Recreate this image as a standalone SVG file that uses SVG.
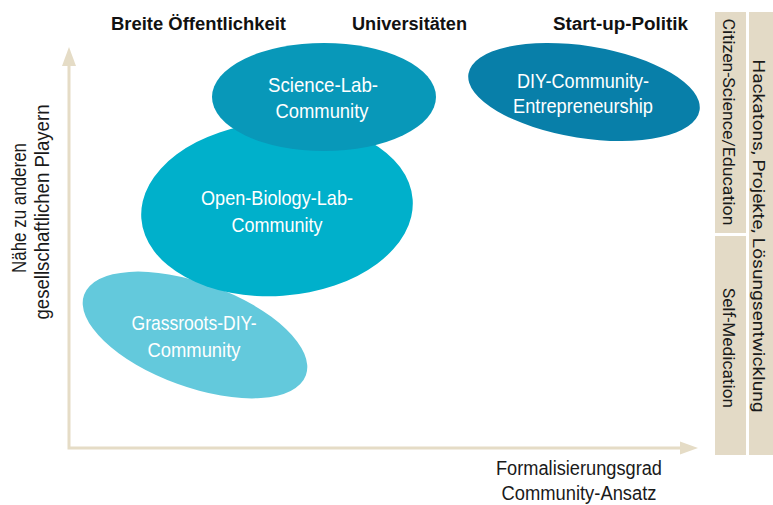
<svg xmlns="http://www.w3.org/2000/svg" width="773" height="505" viewBox="0 0 773 505">
<style>
.lbl{font-family:"Liberation Sans",Arial,sans-serif;font-size:21px;fill:#ffffff;text-anchor:middle}
.head{font-family:"Liberation Sans",Arial,sans-serif;font-size:18px;font-weight:bold;fill:#111111}
.ax{font-family:"Liberation Sans",Arial,sans-serif;font-size:20px;fill:#1a1a1a;text-anchor:middle}
.bar{fill:#e3dac6}
.bt{font-family:Roboto,"Liberation Sans",sans-serif;font-size:16px;fill:#1a1a1a;text-anchor:middle}
.axis{stroke:#e5dcc6;stroke-width:3;fill:none}
.ah{fill:#e5dcc6}
</style>
<rect width="773" height="505" fill="#ffffff"/>

<g id="headers">
<text class="head" x="111" y="30" textLength="175" lengthAdjust="spacingAndGlyphs">Breite Öffentlichkeit</text>
<text class="head" x="352" y="30" textLength="115" lengthAdjust="spacingAndGlyphs">Universitäten</text>
<text class="head" x="553" y="30" textLength="135" lengthAdjust="spacingAndGlyphs">Start-up-Politik</text>
</g>

<g id="connectors">
<polyline class="axis" points="69,64 69,448 683,448"/>
<polygon class="ah" points="69,47 62,66 76,66"/>
<polygon class="ah" points="698,448 680,441.5 680,454.5"/>
</g>

<g id="axis-labels">
<text class="ax" transform="translate(26,208) rotate(-90)" textLength="130" lengthAdjust="spacingAndGlyphs">Nähe zu anderen</text>
<text class="ax" transform="translate(49,212) rotate(-90)" textLength="215" lengthAdjust="spacingAndGlyphs">gesellschaftlichen Playern</text>
<text class="ax" x="579" y="475" textLength="166" lengthAdjust="spacingAndGlyphs">Formalisierungsgrad</text>
<text class="ax" x="579" y="500" textLength="155" lengthAdjust="spacingAndGlyphs">Community-Ansatz</text>
</g>

<g id="side-bars">
<rect class="bar" x="715" y="12" width="31" height="221"/>
<rect class="bar" x="715" y="236" width="31" height="219"/>
<rect class="bar" x="749" y="12" width="24" height="443"/>
<text class="bt" transform="translate(722.5,122) rotate(90)" textLength="207" lengthAdjust="spacingAndGlyphs">Citizen-Science/Education</text>
<text class="bt" transform="translate(722.5,348) rotate(90)" textLength="120" lengthAdjust="spacingAndGlyphs">Self-Medication</text>
<text class="bt" transform="translate(753,236) rotate(90)" textLength="353" lengthAdjust="spacingAndGlyphs">Hackatons, Projekte, Lösungsentwicklung</text>
</g>

<g id="grassroots">
<ellipse cx="195" cy="335" rx="118" ry="52" transform="rotate(20 195 335)" fill="#63c9dc"/>
<text class="lbl" x="194" y="330" textLength="125" lengthAdjust="spacingAndGlyphs">Grassroots-DIY-</text>
<text class="lbl" x="194" y="357" textLength="93" lengthAdjust="spacingAndGlyphs">Community</text>
</g>

<g id="open-biology">
<ellipse cx="277" cy="209" rx="136" ry="87" transform="rotate(-4 277 209)" fill="#00b0cb"/>
<text class="lbl" x="277" y="205" textLength="152" lengthAdjust="spacingAndGlyphs">Open-Biology-Lab-</text>
<text class="lbl" x="277" y="232" textLength="91" lengthAdjust="spacingAndGlyphs">Community</text>
</g>

<g id="science-lab">
<ellipse cx="324" cy="97" rx="112" ry="54" fill="#0898b9"/>
<text class="lbl" x="323" y="92" textLength="110" lengthAdjust="spacingAndGlyphs">Science-Lab-</text>
<text class="lbl" x="322" y="118" textLength="93" lengthAdjust="spacingAndGlyphs">Community</text>
</g>

<g id="diy-entrepreneurship">
<ellipse cx="584" cy="92" rx="117" ry="46" transform="rotate(9 584 92)" fill="#087fa9"/>
<text class="lbl" x="583" y="88" textLength="132" lengthAdjust="spacingAndGlyphs">DIY-Community-</text>
<text class="lbl" x="583" y="113" textLength="140" lengthAdjust="spacingAndGlyphs">Entrepreneurship</text>
</g>
</svg>
